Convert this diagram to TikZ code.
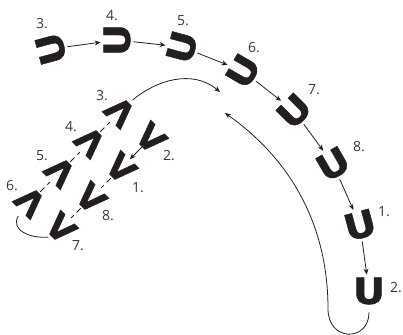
\documentclass[tikz,border=0pt]{standalone}
\usepackage{fontspec}
\setsansfont{Open Sans}
\newfontfamily\glyphfont{DejaVu Sans}[BoldFeatures={FakeBold=1.2}]
\usetikzlibrary{arrows.meta}
\definecolor{glyphcolor}{HTML}{231F20}
\definecolor{labelcolor}{HTML}{3A3A3A}
\definecolor{edgecolor}{HTML}{231F20}
\tikzset{
  ushape/.style={inner sep=0pt, outer sep=3pt, text=glyphcolor, font=\glyphfont\bfseries\fontsize{36}{36}\selectfont, rotate=#1, xscale=1.1},
  ushape/.default=0,
  vshape/.style={inner sep=0pt, outer sep=0pt, text=glyphcolor, font=\glyphfont\bfseries\fontsize{34}{34}\selectfont, rotate=#1},
  steplabel/.style={inner sep=0pt, text=labelcolor, font=\sffamily\fontsize{14}{14}\selectfont},
  edge/.style={-{Stealth[length=6pt,width=5pt]}, draw=edgecolor, line width=0.8pt},
  dashedge/.style={draw=edgecolor, line width=0.8pt, dash pattern=on 6pt off 4pt, shorten <=2pt, shorten >=2pt},
  loopedge/.style={draw=edgecolor, line width=0.8pt},
}

\begin{document}
\begin{tikzpicture}[x=1pt,y=1pt]
  \useasboundingbox (0,0) rectangle (403,334);

  % upper chain: U turning step by step
  \node[ushape=105] (u3) at (51,285) {U};
  \node[ushape=90]  (u4) at (117,294) {U};
  \node[ushape=75]  (u5) at (182,287) {U};
  \node[ushape=60]  (u6) at (243,263) {U};
  \node[ushape=45]  (u7) at (294,223) {U};
  \node[ushape=30]  (u8) at (333,170) {U};
  \node[ushape=15]  (u1) at (360,109) {U};
  \node[ushape]     (u2) at (369,43) {U};

  \node[steplabel] (lu3) at (42,310) {3.};
  \node[steplabel] (lu4) at (112,318) {4.};
  \node[steplabel] (lu5) at (183,313) {5.};
  \node[steplabel] (lu6) at (254,286) {6.};
  \node[steplabel] (lu7) at (314,244) {7.};
  \node[steplabel] (lu8) at (359,187) {8.};
  \node[steplabel] (lu1) at (384,122) {1.};
  \node[steplabel] (lu2) at (396,46) {2.};

  \draw[edge] (u3) -- (u4);
  \draw[edge] (u4) -- (u5);
  \draw[edge] (u5) -- (u6);
  \draw[edge] (u6) -- (u7);
  \draw[edge] (u7) -- (u8);
  \draw[edge] (u8) -- (u1);
  \draw[edge] (u1) -- (u2);

  % lower chain: V flipping
  \node[vshape=135] (v3) at (120,222) {V};
  \node[vshape=135] (v4) at (90,192) {V};
  \node[vshape=135] (v5) at (60,162) {V};
  \node[vshape=135] (v6) at (30,132) {V};
  \node[vshape=-45] (v2) at (151,196) {V};
  \node[vshape=-45] (v1) at (121,166) {V};
  \node[vshape=-45] (v8) at (91,136) {V};
  \node[vshape=-45] (v7) at (61,106) {V};

  \node[steplabel] (lv3) at (102,238) {3.};
  \node[steplabel] (lv4) at (71,207) {4.};
  \node[steplabel] (lv5) at (42,178) {5.};
  \node[steplabel] (lv6) at (12,148) {6.};
  \node[steplabel] (lv2) at (169,178) {2.};
  \node[steplabel] (lv1) at (138,146) {1.};
  \node[steplabel] (lv8) at (108,118) {8.};
  \node[steplabel] (lv7) at (78,88) {7.};

  \draw[dashedge] (v4.south) -- (v3.north);
  \draw[dashedge] (v5.south) -- (v4.north);
  \draw[dashedge] (v6.south) -- (v5.north);
  \draw[edge] (v2.south) -- (v1.north);
  \draw[dashedge] (v1.south) -- (v8.north);
  \draw[dashedge] (v8.south) -- (v7.north);
  \draw[loopedge, shorten <=6pt, shorten >=4pt] (v6.north) to[out=240,in=185,looseness=1.4] (v7.south);

  % jumps between the two chains
  \coordinate (tipA) at (220,242);
  \coordinate (tipB) at (225,221);
  \draw[edge, shorten <=5pt] (v3.south) to[out=40,in=140] (tipA);
  \draw[edge, shorten <=5pt] (u2.south) .. controls (369,-8) and (328,-8) .. (328,25)
    .. controls (328,110) and (290,175) .. (tipB);
\end{tikzpicture}
\end{document}
